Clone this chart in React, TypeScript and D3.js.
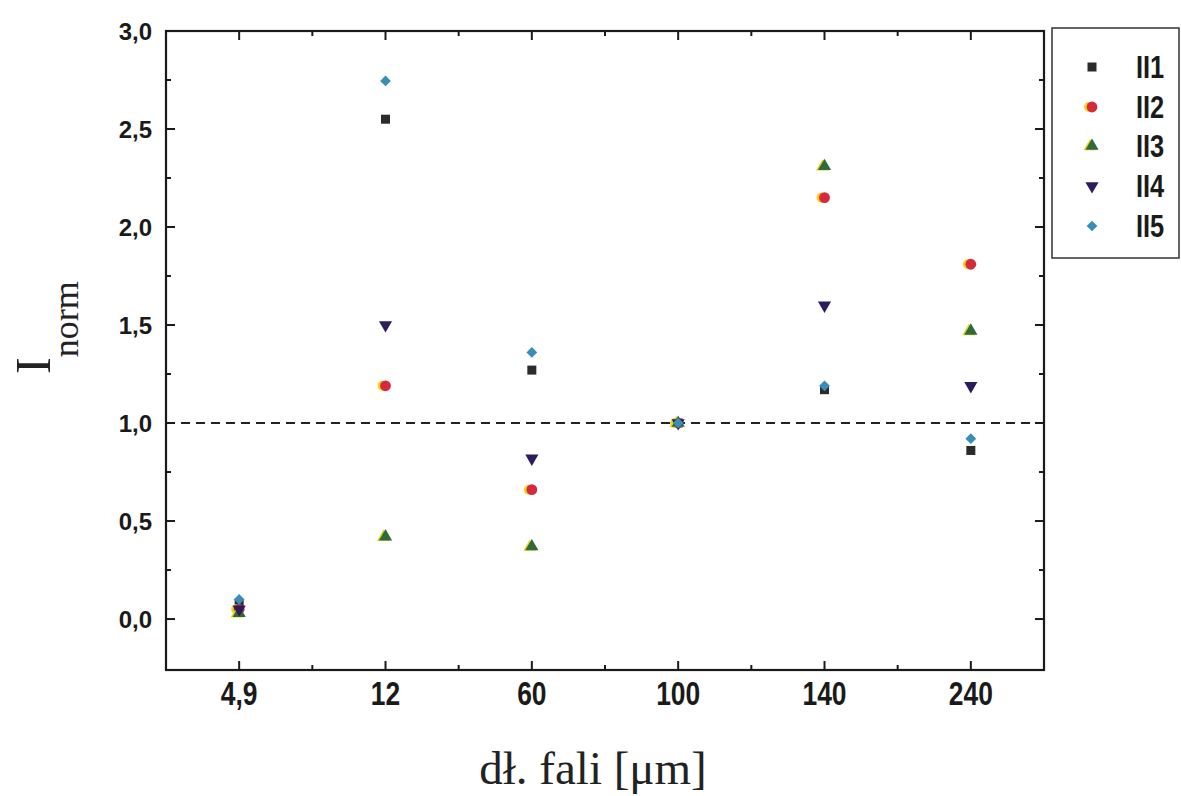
import React from "react";
import * as d3 from "d3";

const categories = ["4,9", "12", "60", "100", "140", "240"];
const seriesNames = ["II1", "II2", "II3", "II4", "II5"];
const II1 = [0.08, 2.55, 1.27, 1.0, 1.17, 0.86];
const II2 = [0.05, 1.19, 0.66, 1.0, 2.15, 1.81];
const II3 = [0.03, 0.42, 0.37, 1.0, 2.31, 1.47];
const II4 = [0.05, 1.5, 0.82, 1.0, 1.6, 1.19];
const II5 = [0.1, 2.745, 1.36, 1.0, 1.19, 0.92];
const yTicks = [0, 0.5, 1, 1.5, 2, 2.5, 3];
const yTickLabels = ["0,0", "0,5", "1,0", "1,5", "2,0", "2,5", "3,0"];

const seriesData = [II1, II2, II3, II4, II5];
const colors = ["#2b2b2b", "#d42a3c", "#2f6a3a", "#2c1c5c", "#3a8db4"];
const shapes = ["square", "circle", "triangle", "down", "diamond"];

const L = 166, R = 1044, T = 31, B = 670;

const x = d3.scalePoint<string>().domain(categories).range([L, R]).padding(0.5);
const y = d3.scaleLinear().domain([-0.26, 3.0]).range([B, T]);

const NARROW = "'Liberation Sans', Arial, sans-serif";

function Marker({ shape, cx, cy, color }: { shape: string; cx: number; cy: number; color: string }) {
  if (shape === "square") return <rect x={cx - 4.5} y={cy - 4.5} width={9} height={9} fill={color} />;
  if (shape === "circle")
    return (
      <g>
        <circle cx={cx - 3} cy={cy} r={5} fill="#f5d020" />
        <circle cx={cx} cy={cy} r={5.4} fill={color} />
      </g>
    );
  if (shape === "triangle") {
    const p = d3.symbol().type(d3.symbolTriangle).size(75)();
    return (
      <g>
        <path d={p || ""} transform={`translate(${cx - 2},${cy + 0.5})`} fill="#e8d41c" />
        <path d={p || ""} transform={`translate(${cx},${cy})`} fill={color} />
      </g>
    );
  }
  if (shape === "down") {
    const p = d3.symbol().type(d3.symbolTriangle).size(75)();
    return <path d={p || ""} transform={`translate(${cx},${cy}) rotate(180)`} fill={color} />;
  }
  return <rect x={-3.8} y={-3.8} width={7.6} height={7.6} transform={`translate(${cx},${cy}) rotate(45)`} fill={color} />;
}

export default function App() {
  const step = x.step();
  const minorX = categories.slice(0, -1).map((c) => (x(c) as number) + step / 2);
  const minorY = d3.range(0.25, 3, 0.5);
  const legendRows = [67, 107, 146, 186, 226];

  return (
    <svg
      width={1181}
      height={796}
      style={{ position: "absolute", left: 0, top: 0, background: "#fff" }}
    >
      {/* dashed reference line */}
      <line x1={L} x2={R} y1={y(1)} y2={y(1)} stroke="#222" strokeWidth={2.2} strokeDasharray="9,6" />

      {/* points */}
      {seriesData.map((vals, si) =>
        vals.map((v, i) => (
          <Marker key={`${si}-${i}`} shape={shapes[si]} cx={x(categories[i]) as number} cy={y(v)} color={colors[si]} />
        ))
      )}

      {/* frame */}
      <rect x={L} y={T} width={R - L} height={B - T} fill="none" stroke="#1a1a1a" strokeWidth={2.2} />

      {/* x ticks bottom & top */}
      {categories.map((c) => (
        <g key={c}>
          <line x1={x(c)} x2={x(c)} y1={B} y2={B - 9} stroke="#1a1a1a" strokeWidth={2} />
          <line x1={x(c)} x2={x(c)} y1={T} y2={T + 9} stroke="#1a1a1a" strokeWidth={2} />
          <text
            transform={`translate(${x(c)},705) scale(0.8,1)`}
            textAnchor="middle"
            fontFamily={NARROW}
            fontWeight="bold"
            fontSize={33}
            fill="#1a1a1a"
          >
            {c}
          </text>
        </g>
      ))}
      {minorX.map((mx, i) => (
        <g key={i}>
          <line x1={mx} x2={mx} y1={B} y2={B - 5} stroke="#1a1a1a" strokeWidth={2} />
          <line x1={mx} x2={mx} y1={T} y2={T + 5} stroke="#1a1a1a" strokeWidth={2} />
        </g>
      ))}

      {/* y ticks left & right */}
      {yTicks.map((t, i) => (
        <g key={t}>
          <line x1={L} x2={L + 9} y1={y(t)} y2={y(t)} stroke="#1a1a1a" strokeWidth={2} />
          <line x1={R} x2={R - 9} y1={y(t)} y2={y(t)} stroke="#1a1a1a" strokeWidth={2} />
          <text
            x={152}
            y={y(t) + 8.5}
            textAnchor="end"
            fontFamily="'Liberation Sans', Arial, sans-serif"
            fontWeight="bold"
            fontSize={24}
            fill="#1a1a1a"
          >
            {yTickLabels[i]}
          </text>
        </g>
      ))}
      {minorY.map((t) => (
        <g key={t}>
          <line x1={L} x2={L + 5} y1={y(t)} y2={y(t)} stroke="#1a1a1a" strokeWidth={2} />
          <line x1={R} x2={R - 5} y1={y(t)} y2={y(t)} stroke="#1a1a1a" strokeWidth={2} />
        </g>
      ))}

      {/* axis titles */}
      <text
        transform="translate(50,374) rotate(-90)"
        fontFamily="'Liberation Serif', 'Times New Roman', serif"
        fill="#222"
      >
        <tspan fontSize={50}>I</tspan>
        <tspan fontSize={36} dy={28}>norm</tspan>
      </text>
      <text
        x={593}
        y={784}
        textAnchor="middle"
        fontFamily="'Liberation Serif', 'Times New Roman', serif"
        fontSize={47}
        fill="#222"
      >
        dł. fali [μm]
      </text>

      {/* legend */}
      <rect x={1052} y={28} width={127} height={230} fill="#fff" stroke="#333" strokeWidth={1.5} />
      {seriesNames.map((n, i) => (
        <g key={n}>
          <Marker shape={shapes[i]} cx={1092} cy={legendRows[i]} color={colors[i]} />
          <text
            transform={`translate(1136,${legendRows[i] + 11}) scale(0.82,1)`}
            fontFamily={NARROW}
            fontWeight="bold"
            fontSize={31}
            fill="#1a1a1a"
          >
            {n}
          </text>
        </g>
      ))}
    </svg>
  );
}
